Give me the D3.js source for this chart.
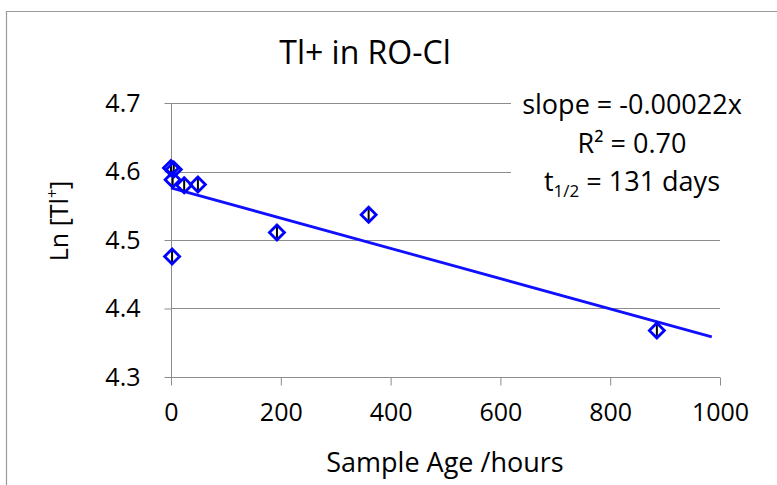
<!DOCTYPE html>
<html><head><meta charset="utf-8">
<script src="https://cdn.jsdelivr.net/npm/d3@7"></script>
<style>body{margin:0;background:#fff}svg{display:block}text{font-family:"Open Sans",sans-serif;fill:#000}</style>
</head><body>
<svg id="c" width="777" height="485"></svg>
<script>
const hours = [0, 5, 3, 24, 49, 2, 193, 360, 885];
const lnTl = [4.605, 4.603, 4.588, 4.580, 4.581, 4.476, 4.511, 4.537, 4.368];
const errs = [0.008, 0.008, 0.008, 0.008, 0.008, 0.008, 0.008, 0.008, 0.008];
const xTicks = [0, 200, 400, 600, 800, 1000];
const yTicks = [4.3, 4.4, 4.5, 4.6, 4.7];
const trendEnd = 985;

const svg = d3.select("#c");
const x = d3.scaleLinear().domain([0, 1000]).range([171, 720]);
const y = d3.scaleLinear().domain([4.3, 4.7]).range([377, 103]);

// chart frame
svg.append("path").attr("d", "M6.5,485 V11.5 H777").attr("fill", "none").attr("stroke", "#9a9a9a").attr("stroke-width", 1.2);

// gridlines
svg.append("g").selectAll("line").data(yTicks.slice(1)).join("line")
  .attr("x1", x(0)).attr("x2", x(1000)).attr("y1", d => Math.round(y(d)) + 0.5).attr("y2", d => Math.round(y(d)) + 0.5)
  .attr("stroke", "#8c8c8c").attr("stroke-width", 1);

// axes
const xAxis = svg.append("g").attr("transform", `translate(0,${Math.round(y(4.3)) + 0.5})`)
  .call(d3.axisBottom(x).tickValues(xTicks).tickSize(8).tickPadding(18).tickFormat(d3.format("d")));
const yAxis = svg.append("g").attr("transform", `translate(${Math.round(x(0)) + 0.5},0)`)
  .call(d3.axisLeft(y).tickValues(yTicks).tickSize(7).tickPadding(24).tickFormat(d3.format(".1f")));
[xAxis, yAxis].forEach(g => {
  g.select(".domain").attr("stroke", "#8c8c8c").attr("stroke-width", 1);
  g.selectAll(".tick line").attr("stroke", "#8c8c8c");
  g.selectAll(".tick text").attr("font-size", 25).attr("font-family", "Open Sans").attr("fill", "#000");
});
xAxis.select(".domain").attr("d", `M${x(0)},0H${x(1000)}`);
yAxis.select(".domain").attr("d", `M0,${y(4.7)}V${y(4.3)}`);

// regression trendline from the data
const n = hours.length;
const mx = d3.mean(hours), my = d3.mean(lnTl);
let sxy = 0, sxx = 0;
for (let i = 0; i < n; i++) { sxy += (hours[i] - mx) * (lnTl[i] - my); sxx += (hours[i] - mx) ** 2; }
const slope = sxy / sxx, icpt = my - slope * mx;
svg.append("line").attr("x1", x(0)).attr("y1", y(icpt)).attr("x2", x(trendEnd)).attr("y2", y(icpt + slope * trendEnd))
  .attr("stroke", "#1010ff").attr("stroke-width", 2.8);

// annotation box (white) covering gridlines
svg.append("rect").attr("x", 511).attr("y", 86).attr("width", 250).attr("height", 112).attr("fill", "#fff");
const ann = svg.append("text").attr("text-anchor", "middle").attr("font-size", 27);
ann.append("tspan").attr("x", 632).attr("y", 114).text("slope = -0.00022x");
ann.append("tspan").attr("x", 632).attr("y", 153).text("R² = 0.70");
const t3 = svg.append("text").attr("text-anchor", "middle").attr("font-size", 27).attr("x", 632).attr("y", 191);
t3.append("tspan").text("t");
t3.append("tspan").attr("font-size", 17).attr("dy", 6).text("1/2");
t3.append("tspan").attr("dy", -6).text(" = 131 days");

// error bars
const pts = hours.map((h, i) => ({h, v: lnTl[i], e: errs[i]}));
svg.append("g").selectAll("line").data(pts).join("line")
  .attr("x1", d => x(d.h)).attr("x2", d => x(d.h)).attr("y1", d => y(d.v - d.e)).attr("y2", d => y(d.v + d.e))
  .attr("stroke", "#000").attr("stroke-width", 2);

// diamond markers
svg.append("g").selectAll("path").data(pts).join("path")
  .attr("transform", d => `translate(${x(d.h)},${y(d.v)})`)
  .attr("d", "M0,-7.5L7.5,0L0,7.5L-7.5,0Z")
  .attr("fill", "none").attr("stroke", "#0000ff").attr("stroke-width", 2.8);

// title
svg.append("text").attr("x", 365).attr("y", 64).attr("text-anchor", "middle").attr("font-size", 32).text("Tl+ in RO-Cl");

// axis titles
svg.append("text").attr("x", 445).attr("y", 472).attr("text-anchor", "middle").attr("font-size", 27).text("Sample Age /hours");
const yl = svg.append("text").attr("transform", "translate(68,221) rotate(-90)").attr("text-anchor", "middle").attr("font-size", 25);
yl.append("tspan").text("Ln [Tl");
yl.append("tspan").attr("font-size", 16).attr("dy", -10).text("+");
yl.append("tspan").attr("dy", 10).text("]");
</script>
</body></html>
